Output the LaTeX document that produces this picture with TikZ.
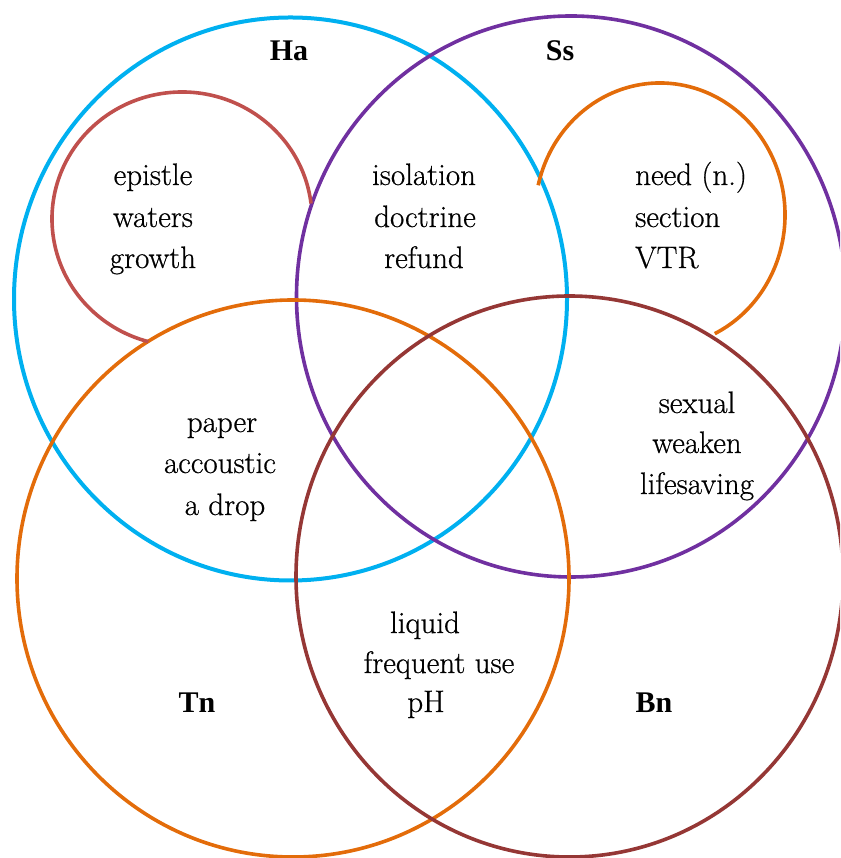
\documentclass[tikz,border=0pt]{standalone}
\usepackage{fontspec}
\newfontfamily\labelfont{Liberation Serif}
\newfontfamily\wordfont{Latin Modern Roman}[FakeBold=0.6]
\definecolor{haBlue}{HTML}{00B0F0}
\definecolor{ssPurple}{HTML}{7030A0}
\definecolor{tnOrange}{HTML}{E36C0A}
\definecolor{bnBrown}{HTML}{953735}
\definecolor{arcRed}{HTML}{C0504D}
\begin{document}
\begin{tikzpicture}[x=1pt,y=1pt,
  word/.style={anchor=base,inner sep=0pt,font=\wordfont\fontsize{31}{41}\selectfont},
  wordL/.style={word,anchor=base west},
  setname/.style={anchor=base,inner sep=0pt,font=\labelfont\fontsize{30}{41}\selectfont\bfseries},
  ring/.style={line width=3.6pt}]
\useasboundingbox (0,0) rectangle (840,858);
\clip (0,0) rectangle (840,858);
% big sets
\draw[ring,haBlue,line width=4pt] (290.5,559) ellipse [x radius=276.5,y radius=281.5];
\draw[ring,ssPurple] (571,561.5) ellipse [x radius=274.5,y radius=280.5];
\draw[ring,tnOrange] (293,279.5) ellipse [x radius=276,y radius=278.5];
\draw[ring,bnBrown] (569.5,281.5) ellipse [x radius=273.5,y radius=280.5];
% inner arcs
\draw[ring,arcRed] (182,639) ++(7:130 and 127) arc[start angle=7,end angle=255,x radius=130,y radius=127];
\draw[ring,tnOrange] (660,643) ++(167:125 and 132) arc[start angle=167,end angle=-64,x radius=125,y radius=132];
% set labels
\node[setname] (lHa) at (289,797) {Ha};
\node[setname] (lSs) at (560,797) {Ss};
\node[setname] (lTn) at (197,145) {Tn};
\node[setname] (lBn) at (654,145) {Bn};
% region texts
\node[word] (t1a) at (153,673) {epistle};
\node[word] (t1b) at (153,631) {waters};
\node[word] (t1c) at (153,590) {growth};
\node[word] (t2a) at (424,673) {isolation};
\node[word] (t2b) at (425,631) {doctrine};
\node[word] (t2c) at (424,590) {refund};
\node[wordL] (t3a) at (635,673) {need (n.)};
\node[wordL] (t3b) at (635,631) {section};
\node[wordL] (t3c) at (635,590) {VTR};
\node[word] (t4a) at (222,426) {paper};
\node[word] (t4b) at (220,385) {accoustic};
\node[word] (t4c) at (225,343) {a drop};
\node[word] (t5a) at (697,445) {sexual};
\node[word] (t5b) at (697,405) {weaken};
\node[word] (t5c) at (697,364) {lifesaving};
\node[word] (t6a) at (425,225) {liquid};
\node[word] (t6b) at (439,185) {frequent use};
\node[word] (t6c) at (426,146) {pH};
\end{tikzpicture}
\end{document}
